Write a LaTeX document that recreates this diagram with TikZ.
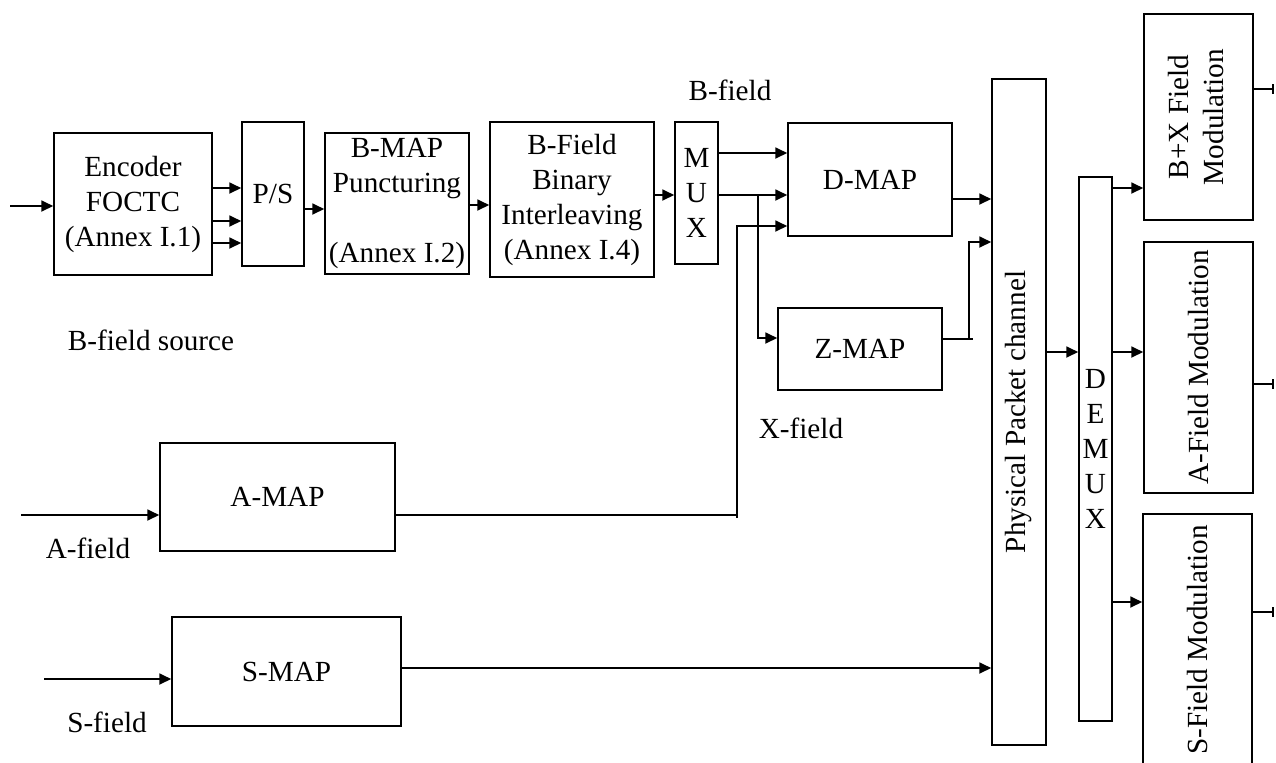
\documentclass[tikz,border=0pt]{standalone}
\usepackage{fontspec}
\setmainfont{Liberation Serif}
\usetikzlibrary{arrows.meta}
\begin{document}
\begin{tikzpicture}[x=0.5pt,y=-0.5pt,
  font=\fontsize{14.6}{17.5}\selectfont,
  box/.style={draw, line width=0.75pt, inner sep=0pt, align=center},
  arr/.style={line width=0.9pt, -{Triangle[length=6pt,width=5.5pt]}},
  ln/.style={line width=0.9pt},
  endbar/.style={line width=0.9pt, -{Bar[width=5pt]}},
  lbl/.style={inner sep=0pt}]
\useasboundingbox (0,0) rectangle (1276,762);
\clip (0,0) rectangle (1276,762);

% boxes
\node[box, minimum width=79pt, minimum height=71pt] (enc) at (133,204) {Encoder\\FOCTC\\(Annex I.1)};
\node[box, minimum width=31pt, minimum height=72pt] (ps) at (273,194) {P/S};
\node[box, minimum width=72pt, minimum height=70.5pt] (bmap) at (397,203.5) {B-MAP\\Puncturing\\[17.5pt](Annex I.2)};
\node[box, minimum width=82pt, minimum height=77.5pt] (bint) at (572,199.5) {B-Field\\Binary\\Interleaving\\(Annex I.4)};
\node[box, minimum width=21.5pt, minimum height=71pt] (mux) at (696.5,193) {M\\U\\X};
\node[box, minimum width=82pt, minimum height=56.5pt] (dmap) at (870,179.5) {D-MAP};
\node[box, minimum width=82pt, minimum height=41pt] (zmap) at (860,349) {Z-MAP};
\node[box, minimum width=117.5pt, minimum height=54pt] (amap) at (277.5,497) {A-MAP};
\node[box, minimum width=114.5pt, minimum height=54.5pt] (smap) at (286.5,671.5) {S-MAP};
\node[box, minimum width=27pt, minimum height=333pt] (ppc) at (1019,412) {\rotatebox{90}{Physical Packet channel}};
\node[box, minimum width=16.5pt, minimum height=272pt] (demux) at (1095.5,449) {D\\E\\M\\U\\X};
\node[box, minimum width=54.5pt, minimum height=103pt] (bxm) at (1198.5,117) {\rotatebox{90}{\begin{tabular}{@{}c@{}}B+X Field\\Modulation\end{tabular}}};
\node[box, minimum width=54.5pt, minimum height=125.5pt] (afm) at (1198.5,367.5) {\rotatebox{90}{A-Field Modulation}};
\node[box, minimum width=54.5pt, minimum height=126pt] (sfm) at (1197.5,640) {\rotatebox{90}{S-Field Modulation}};

% labels
\node[lbl] (lbsrc) at (151,340) {B-field source};
\node[lbl] (lbb) at (730,90) {B-field};
\node[lbl] (lbx) at (801,428) {X-field};
\node[lbl] (lba) at (88,548) {A-field};
\node[lbl] (lbs) at (107,722) {S-field};

% connectors
\coordinate (ein) at (10,206);
\draw[arr] (ein) -- (ein -| enc.west);
\foreach \yy in {188,221,243} \draw[arr] (enc.east |- 0,\yy) -- (ps.west |- 0,\yy);
\draw[arr] (ps.east |- 0,209) -- (bmap.west |- 0,209);
\draw[arr] (bmap.east |- 0,205) -- (bint.west |- 0,205);
\draw[arr] (bint.east |- 0,195) -- (mux.west |- 0,195);
\draw[arr] (mux.east |- 0,153) -- (dmap.west |- 0,153);
\draw[arr] (mux.east |- 0,195) -- (dmap.west |- 0,195);
\coordinate (br) at (758,195);
\draw[arr] (br) |- (zmap.west |- 0,338);
\coordinate (aj) at (737,515);
\draw[arr] (amap.east |- aj) -- (aj) |- (dmap.west |- 0,226);
\draw[ln] (aj) -- (737,518);
\coordinate (ain) at (21,515);
\draw[arr] (ain) -- (ain -| amap.west);
\coordinate (sin) at (44,679);
\draw[arr] (sin) -- (sin -| smap.west);
\draw[arr] (smap.east |- 0,668) -- (ppc.west |- 0,668);
\draw[arr] (dmap.east |- 0,199) -- (ppc.west |- 0,199);
\coordinate (zj) at (969,339);
\draw[ln] (zmap.east |- zj) -- (973,339);
\draw[arr] (zj) |- (ppc.west |- 0,242);
\draw[arr] (ppc.east |- 0,352) -- (demux.west |- 0,352);
\draw[arr] (demux.east |- 0,188) -- (bxm.west |- 0,188);
\draw[arr] (demux.east |- 0,352) -- (afm.west |- 0,352);
\draw[arr] (demux.east |- 0,602) -- (sfm.west |- 0,602);
\coordinate (o1) at (1274,89);
\coordinate (o2) at (1274,384);
\coordinate (o3) at (1274,612);
\draw[endbar] (bxm.east |- o1) -- (o1);
\draw[endbar] (afm.east |- o2) -- (o2);
\draw[endbar] (sfm.east |- o3) -- (o3);
\end{tikzpicture}
\end{document}
